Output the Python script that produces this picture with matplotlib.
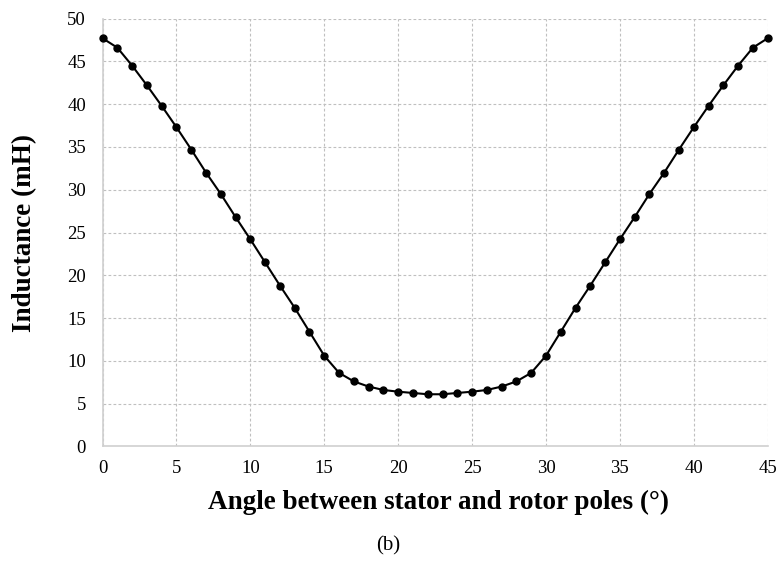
import matplotlib.pyplot as plt
import matplotlib

matplotlib.rcParams['font.family'] = ['Liberation Serif', 'DejaVu Serif']

# angle (deg) and inductance (mH)
angle = list(range(0, 46))
inductance = [47.7, 46.6, 44.5, 42.2, 39.8, 37.3, 34.7, 32.0, 29.5, 26.8,
              24.2, 21.5, 18.8, 16.2, 13.4, 10.6, 8.6, 7.6, 7.0, 6.6,
              6.4, 6.25, 6.1, 6.1, 6.25, 6.4, 6.6, 7.0, 7.6, 8.6,
              10.6, 13.4, 16.2, 18.8, 21.5, 24.2, 26.8, 29.5, 32.0, 34.7,
              37.3, 39.8, 42.2, 44.5, 46.6, 47.7]
xticks = list(range(0, 46, 5))
yticks = list(range(0, 51, 5))

fig = plt.figure(figsize=(7.77, 5.63), dpi=100)
ax = fig.add_axes([0.132, 0.207, 0.856, 0.760])

ax.plot(angle, inductance, 'k-', lw=1.5, marker='o', ms=5, clip_on=False, zorder=3)

ax.set_xlim(0, 45)
ax.set_ylim(0, 50)
ax.set_xticks(xticks)
ax.set_yticks(yticks)
ax.tick_params(length=0, labelsize=13.5)
ax.tick_params(axis='x', pad=10)
ax.tick_params(axis='y', pad=12)
ax.grid(True, ls=(0, (2.5, 2)), color='#bfbfbf', lw=0.8)
ax.set_axisbelow(True)
for s in ['top', 'right']:
    ax.spines[s].set_visible(False)
for s in ['left', 'bottom']:
    ax.spines[s].set_color('#d0d0d0')
    ax.spines[s].set_linewidth(1.2)

ax.set_xlabel('Angle between stator and rotor poles (°)', fontsize=19.5,
              fontweight='bold', va='center')
ax.xaxis.set_label_coords(0.505, -0.130)
ax.set_ylabel('Inductance (mH)', fontsize=19.5, fontweight='bold', va='center')
ax.yaxis.set_label_coords(-0.117, 0.5)
fig.text(0.5, 1 - 546 / 563, '(b)', ha='center', va='center', fontsize=15)

plt.savefig('out.png', dpi=100)
